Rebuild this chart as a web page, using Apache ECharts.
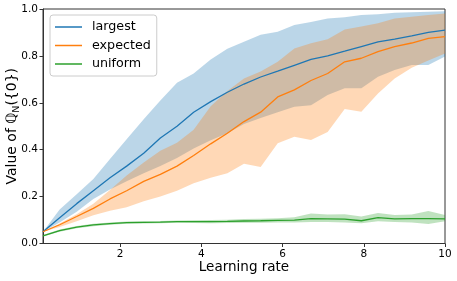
<!DOCTYPE html>
<html>
<head>
<meta charset="utf-8">
<script src="https://cdn.jsdelivr.net/npm/echarts@6/dist/echarts.min.js"></script>
<style>
html,body{margin:0;padding:0;background:#fff;}
#chart{width:457px;height:281px;}
</style>
</head>
<body>
<div id="chart"></div>
<script>
// ---- data ----
const learningRate = [0.10, 0.51, 0.93, 1.34, 1.75, 2.16, 2.58, 2.99, 3.40, 3.81, 4.23, 4.64, 5.05,
                      5.46, 5.88, 6.29, 6.70, 7.11, 7.53, 7.94, 8.35, 8.76, 9.18, 9.59, 10.0];

const largestMean  = [0.050, 0.110, 0.170, 0.225, 0.280, 0.330, 0.385, 0.450, 0.500, 0.560, 0.605, 0.645, 0.680,
                      0.710, 0.735, 0.760, 0.785, 0.800, 0.820, 0.840, 0.860, 0.872, 0.885, 0.900, 0.910];
const largestLow   = [0.050, 0.090, 0.135, 0.190, 0.230, 0.265, 0.300, 0.330, 0.365, 0.405, 0.440, 0.470, 0.510,
                      0.535, 0.560, 0.583, 0.590, 0.633, 0.662, 0.662, 0.711, 0.740, 0.761, 0.761, 0.797];
const largestHigh  = [0.050, 0.145, 0.210, 0.275, 0.360, 0.445, 0.530, 0.610, 0.685, 0.725, 0.785, 0.830, 0.860,
                      0.890, 0.903, 0.932, 0.945, 0.960, 0.965, 0.974, 0.978, 0.984, 0.986, 0.988, 0.990];

const expectedMean = [0.050, 0.080, 0.115, 0.150, 0.190, 0.225, 0.265, 0.295, 0.330, 0.375, 0.425, 0.470, 0.520,
                      0.560, 0.625, 0.655, 0.695, 0.725, 0.775, 0.790, 0.818, 0.840, 0.855, 0.875, 0.882];
const expectedLow  = [0.050, 0.070, 0.095, 0.120, 0.140, 0.155, 0.180, 0.200, 0.225, 0.257, 0.280, 0.300, 0.340,
                      0.326, 0.427, 0.455, 0.441, 0.475, 0.574, 0.562, 0.640, 0.704, 0.750, 0.780, 0.810];
const expectedHigh = [0.050, 0.085, 0.125, 0.170, 0.228, 0.290, 0.345, 0.395, 0.430, 0.485, 0.585, 0.650, 0.704,
                      0.733, 0.775, 0.832, 0.854, 0.871, 0.913, 0.925, 0.939, 0.960, 0.967, 0.974, 0.981];

const uniformMean  = [0.033, 0.055, 0.070, 0.079, 0.085, 0.089, 0.090, 0.091, 0.093, 0.093, 0.093, 0.094, 0.096,
                      0.097, 0.099, 0.100, 0.106, 0.105, 0.104, 0.097, 0.110, 0.105, 0.106, 0.106, 0.105];
const uniformLow   = [0.030, 0.050, 0.065, 0.074, 0.080, 0.084, 0.085, 0.086, 0.088, 0.087, 0.086, 0.087, 0.088,
                      0.088, 0.090, 0.090, 0.092, 0.092, 0.090, 0.086, 0.095, 0.092, 0.090, 0.083, 0.095];
const uniformHigh  = [0.036, 0.060, 0.075, 0.084, 0.090, 0.094, 0.095, 0.096, 0.098, 0.099, 0.100, 0.101, 0.104,
                      0.106, 0.108, 0.112, 0.128, 0.124, 0.125, 0.115, 0.130, 0.122, 0.124, 0.139, 0.122];

const xTicks = [2, 4, 6, 8, 10];
const seriesNames = ['largest', 'expected', 'uniform'];
const colors = ['#1f77b4', '#ff7f0e', '#2ca02c'];
// ---------------------------------------

const FONT = 'DejaVu Sans';

function pairs(xs, ys) { return xs.map((x, i) => [x, ys[i]]); }

function bandSeries(name, low, high, color) {
  const rows = learningRate.map((x, i) => [x, low[i], high[i]]);
  return {
    name: name + ' band',
    type: 'custom',
    z: 1,
    silent: true,
    encode: { x: 0, y: [1, 2] },
    data: rows,
    renderItem: function (params, api) {
      if (params.dataIndex !== 0) return null;
      const pts = [];
      for (let i = 0; i < rows.length; i++) pts.push(api.coord([rows[i][0], rows[i][2]]));
      for (let i = rows.length - 1; i >= 0; i--) pts.push(api.coord([rows[i][0], rows[i][1]]));
      return {
        type: 'polygon',
        shape: { points: pts },
        style: { fill: color, opacity: 0.3, stroke: null }
      };
    }
  };
}

function lineSeries(name, ys, color) {
  return {
    name: name,
    type: 'line',
    z: 3,
    symbol: 'none',
    showSymbol: false,
    data: pairs(learningRate, ys),
    lineStyle: { color: color, width: 1.3 },
    itemStyle: { color: color },
    emphasis: { disabled: true }
  };
}

const chart = echarts.init(document.getElementById('chart'), null, { renderer: 'canvas' });

const option = {
  animation: false,
  backgroundColor: '#fff',
  textStyle: { fontFamily: FONT },
  grid: {
    left: 43, right: 12, top: 9, bottom: 37.5,
    containLabel: false,
    outerBoundsMode: 'none',
    show: true,
    borderColor: '#333',
    borderWidth: 1,
    backgroundColor: 'transparent'
  },
  legend: {
    data: seriesNames.map((n, i) => ({ name: n, icon: 'rect', itemStyle: { color: colors[i] } })),
    orient: 'vertical',
    left: 50,
    top: 15,
    padding: [5, 6, 5, 5],
    itemGap: 4.5,
    itemWidth: 27,
    itemHeight: 1.5,
    backgroundColor: 'rgba(255,255,255,0.8)',
    borderColor: '#cccccc',
    borderWidth: 1,
    borderRadius: 3,
    textStyle: { fontFamily: FONT, fontSize: 12.7, color: '#000', padding: [0, 0, 0, 5], lineHeight: 14 },
    z: 10
  },
  xAxis: {
    type: 'value',
    min: 0.1,
    max: 10,
    name: 'Learning rate',
    nameLocation: 'middle',
    nameGap: 17,
    nameMoveOverlap: false,
    nameTextStyle: { fontFamily: FONT, fontSize: 13.5, color: '#000' },
    axisLine: { show: true, lineStyle: { color: '#333', width: 1 } },
    axisTick: { show: true, length: 3.5, lineStyle: { color: '#333' }, customValues: xTicks },
    axisLabel: { fontFamily: FONT, fontSize: 10.5, color: '#000', margin: 5, customValues: xTicks },
    splitLine: { show: false }
  },
  yAxis: {
    type: 'value',
    min: 0,
    max: 1,
    interval: 0.2,
    name: 'Value of {q|ℚ}{s|N}({0})',
    nameLocation: 'middle',
    nameGap: 21,
    nameMoveOverlap: false,
    nameTextStyle: {
      fontFamily: FONT, fontSize: 14, color: '#000', lineHeight: 20,
      rich: {
        q: { fontFamily: FONT, fontSize: 14, color: '#000', lineHeight: 20 },
        s: { fontFamily: FONT, fontSize: 9.5, color: '#000', lineHeight: 8, verticalAlign: 'bottom' }
      }
    },
    axisLine: { show: true, lineStyle: { color: '#333', width: 1 } },
    axisTick: { show: true, length: 3.5, lineStyle: { color: '#333' } },
    axisLabel: { fontFamily: FONT, fontSize: 10.5, color: '#000', margin: 5,
                 formatter: v => v.toFixed(1) },
    splitLine: { show: false }
  },
  series: [
    bandSeries(seriesNames[0], largestLow, largestHigh, colors[0]),
    bandSeries(seriesNames[1], expectedLow, expectedHigh, colors[1]),
    bandSeries(seriesNames[2], uniformLow, uniformHigh, colors[2]),
    lineSeries(seriesNames[0], largestMean, colors[0]),
    lineSeries(seriesNames[1], expectedMean, colors[1]),
    lineSeries(seriesNames[2], uniformMean, colors[2])
  ]
};

chart.setOption(option);
</script>
</body>
</html>
